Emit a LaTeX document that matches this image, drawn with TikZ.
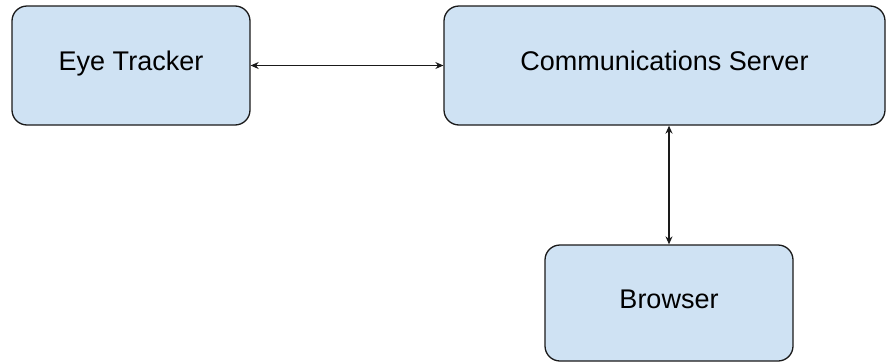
\documentclass[tikz,border=0pt]{standalone}
\usepackage{fontspec}
\setmainfont{Liberation Sans}
\usetikzlibrary{arrows.meta}
\definecolor{boxfill}{HTML}{CFE2F3}
\definecolor{boxline}{HTML}{1A1A1A}
\tikzset{
  comp/.style={draw=boxline, fill=boxfill, line width=1.3pt, rounded corners=15pt,
    font=\fontsize{27}{32}\selectfont, text height=20pt, text depth=10pt,
    inner sep=0pt, align=center},
  link/.style={draw=boxline, line width=1.2pt, {Stealth[length=8pt,width=7pt]}-{Stealth[length=8pt,width=7pt]}}
}
\begin{document}
\begin{tikzpicture}[x=1pt,y=-1pt]
\useasboundingbox (0,0) rectangle (886,362);
\node[comp, minimum width=238pt, minimum height=119pt] (eye) at (131,65.5) {Eye Tracker};
\node[comp, minimum width=441pt, minimum height=119pt] (comm) at (664.5,65.5) {Communications Server};
\node[comp, minimum width=248pt, minimum height=116pt] (browser) at (669,303) {Browser};
\draw[link] (eye.east) -- (comm.west);
\draw[link] (browser.north) -- (browser.north |- comm.south);
\end{tikzpicture}
\end{document}
